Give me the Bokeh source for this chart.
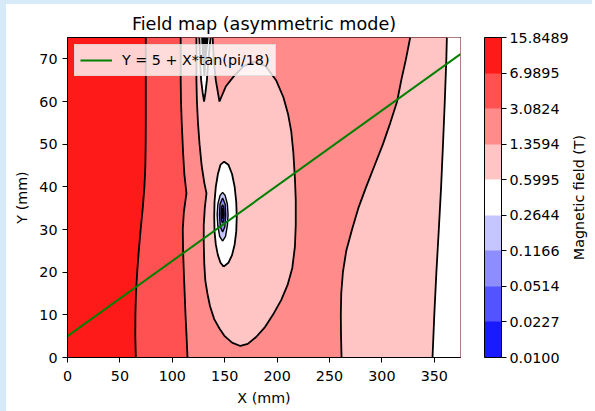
from bokeh.plotting import figure
from bokeh.models import (ColorBar, LogColorMapper, FixedTicker, PrintfTickFormatter,
                          Legend, LegendItem, Range1d)
from bokeh.layouts import row
from bokeh.embed import file_html
from bokeh.resources import INLINE

# ---------------- data ----------------
x_limits = [0, 375]
y_limits = [0, 75]
x_ticks = [0, 50, 100, 150, 200, 250, 300, 350]
y_ticks = [0, 10, 20, 30, 40, 50, 60, 70]

levels = [0.0100, 0.0227, 0.0514, 0.1166, 0.2644, 0.5995, 1.3594, 3.0824, 6.9895, 15.8489]
band_colors = ["#1a1aff", "#5353ff", "#8d8dff", "#c6c6ff", "#ffffff",
               "#ffc5c5", "#ff8b8b", "#ff5151", "#ff1a1a"]

# 6.9895 T contour (left, vertical)
c6990_y = [0, 5, 10, 15, 20, 25, 30, 35, 40, 45, 50, 55, 60, 65, 70, 75]
c6990_x = [65.2, 64.7, 64.8, 65.3, 66.5, 68.0, 69.8, 71.8, 73.4, 74.3, 74.6, 74.7, 74.7, 74.7, 74.7, 74.7]

# 3.0824 T contour
c3082_y = [0, 5, 10, 15, 20, 25, 30, 34, 38.5, 43, 48, 55, 60, 65, 70, 75]
c3082_x = [114.5, 113.6, 112.6, 111.8, 111.0, 110.3, 110.0, 111.0, 113.5, 111.5, 110.3, 109.0, 108.3, 108.0, 108.0, 108.0]

# 1.3594 T contour, right branch
c1359r_y = [0, 5, 10, 15, 20, 25, 30, 35, 40, 45, 50, 55, 60, 65, 70, 75]
c1359r_x = [261.5, 261.0, 260.8, 261.2, 262.8, 266.0, 271.5, 277.5, 285.0, 293.0, 301.0, 308.0, 314.5, 318.5, 323.0, 327.0]

# 0.5995 T contour, right branch
c0600r_y = [0, 10, 20, 30, 40, 50, 60, 70, 75]
c0600r_x = [348.3, 350.0, 352.0, 354.3, 356.5, 358.3, 360.0, 361.5, 362.0]

# 1.3594 T contour around the pole (open at the top edge, with notch)
c1359i_x = [123.0, 123.0, 123.0, 123.5, 124.5, 126.0, 128.0, 130.5, 132.6, 131.0, 130.0, 130.0,
            130.5, 131.5, 133.5, 136.0, 140.0, 145.0, 150.0, 157.0, 165.0, 172.0, 180.0, 188.0,
            196.0, 204.0, 210.0, 214.5, 217.0, 217.8, 217.8, 217.0, 215.5, 213.5, 210.5, 206.0,
            199.0, 189.0, 178.0, 168.0, 159.0, 151.0, 145.0, 141.5, 139.5, 138.5]
c1359i_y = [75.0, 70.0, 65.0, 60.0, 55.0, 50.0, 45.0, 41.0, 38.5, 35.0, 31.0, 27.0,
            22.0, 18.0, 15.0, 12.0, 9.0, 6.8, 5.0, 3.5, 2.7, 3.2, 4.8, 7.0,
            10.0, 13.5, 17.0, 21.0, 26.0, 31.0, 37.0, 42.0, 48.0, 53.0, 57.0, 61.0,
            65.0, 68.3, 69.3, 68.3, 66.0, 63.5, 60.0, 65.0, 70.0, 75.0]

# spike reaching the top edge (0.5995 .. 0.0227 T contours)
spike_levels_x = [
    [125.8, 126.5, 127.5, 129.0, 130.3, 131.6, 133.0, 134.5, 136.5],
    [128.4, 129.3, 130.6, 131.9, 133.8],
    [129.4, 130.1, 130.8, 131.5, 132.6],
    [130.0, 130.8, 131.6],
]
spike_levels_y = [
    [75.0, 70.0, 65.0, 62.0, 60.0, 62.0, 65.0, 70.0, 75.0],
    [75.0, 70.5, 66.0, 70.5, 75.0],
    [75.0, 71.5, 69.0, 71.5, 75.0],
    [75.0, 72.5, 75.0],
]

# closed contours around the weak-field spot (0.5995 .. 0.0227 T)
spot_levels_x = [
    [149.0, 153.5, 157.0, 159.5, 161.0, 161.5, 161.0, 159.5, 157.0, 153.5, 149.5, 146.0,
     143.5, 141.5, 140.3, 140.0, 140.3, 141.5, 143.5, 146.0],
    [148.0, 150.8, 152.6, 153.2, 152.5, 150.4, 148.0, 145.6, 143.5, 142.8, 143.4, 145.2],
    [148.0, 150.1, 151.0, 150.4, 148.0, 145.6, 145.0, 145.9],
    [148.0, 149.1, 149.5, 149.1, 148.0, 146.9, 146.5, 146.9],
    [148.0, 148.5, 148.7, 148.5, 148.0, 147.5, 147.3, 147.5],
]
spot_levels_y = [
    [21.3, 22.2, 24.0, 26.5, 29.5, 33.0, 36.5, 40.0, 43.0, 45.2, 45.9, 45.2,
     43.0, 40.0, 36.5, 33.0, 29.5, 26.5, 24.0, 22.2],
    [27.3, 28.4, 31.0, 33.5, 36.0, 38.0, 38.7, 38.0, 36.0, 33.5, 31.0, 28.4],
    [29.4, 30.6, 33.4, 36.0, 37.4, 36.0, 33.4, 30.6],
    [31.5, 32.2, 33.6, 35.1, 35.8, 35.1, 33.6, 32.2],
    [32.5, 33.0, 33.7, 34.4, 35.0, 34.4, 33.7, 33.0],
]

# reference line  Y = 5 + X*tan(pi/18)
line_x = [0, 375]
line_y = [5.0, 71.1]

# ---------------- figure ----------------
FONT = "DejaVu Sans"
p = figure(frame_width=393, frame_height=320, output_backend="svg", toolbar_location=None,
           x_range=Range1d(*x_limits), y_range=Range1d(*y_limits),
           min_border_left=61, min_border_top=33, min_border_right=113, min_border_bottom=54,
           title="Field map (asymmetric mode)")
p.margin = (4, 0, 0, 6)
p.background_fill_color = band_colors[8]
p.border_fill_color = "white"
p.outline_line_color = "black"
p.outline_line_width = 1
p.xgrid.visible = False
p.ygrid.visible = False

p.title.text_font = FONT
p.title.text_font_size = "17.6px"
p.title.text_font_style = "normal"
p.title.align = "center"
p.title.text_color = "black"
p.title.standoff = 8

for ax, lab in ((p.xaxis[0], "X (mm)"), (p.yaxis[0], "Y (mm)")):
    ax.axis_label = lab
    ax.axis_label_text_font = FONT
    ax.axis_label_text_font_size = "14.3px"
    ax.axis_label_text_font_style = "normal"
    ax.axis_label_text_color = "black"
    ax.major_label_text_font = FONT
    ax.major_label_text_font_size = "14.3px"
    ax.major_label_text_color = "black"
    ax.major_tick_out = 5
    ax.major_tick_in = 0
    ax.minor_tick_out = 0
    ax.minor_tick_in = 0
    ax.axis_line_color = "black"
    ax.major_tick_line_color = "black"
p.xaxis.ticker = FixedTicker(ticks=x_ticks)
p.yaxis.ticker = FixedTicker(ticks=y_ticks)
p.xaxis.major_label_standoff = 8
p.yaxis.major_label_standoff = 5
p.xaxis.axis_label_standoff = 6
p.yaxis.axis_label_standoff = 6


def right_region(xs, ys):
    return xs + [x_limits[1], x_limits[1]], ys + [y_limits[1], y_limits[0]]


# filled bands (painter's order)
for (cx, cy), col in (((c6990_x, c6990_y), band_colors[7]),
                      ((c3082_x, c3082_y), band_colors[6]),
                      ((c1359r_x, c1359r_y), band_colors[5]),
                      ((c0600r_x, c0600r_y), band_colors[4])):
    rx, ry = right_region(cx, cy)
    p.patch(rx, ry, fill_color=col, line_color=None)

p.patch(c1359i_x, c1359i_y, fill_color=band_colors[5], line_color=None)

for i, (sx, sy) in enumerate(zip(spike_levels_x, spike_levels_y)):
    p.patch(sx, sy, fill_color=band_colors[4 - i], line_color=None)
for i, (sx, sy) in enumerate(zip(spot_levels_x, spot_levels_y)):
    p.patch(sx, sy, fill_color=band_colors[4 - i], line_color=None)

# contour lines
LW = 1.8
for cx, cy in ((c6990_x, c6990_y), (c3082_x, c3082_y), (c1359r_x, c1359r_y),
               (c0600r_x, c0600r_y), (c1359i_x, c1359i_y)):
    p.line(cx, cy, line_color="black", line_width=LW)
for sx, sy in zip(spike_levels_x, spike_levels_y):
    p.line(sx, sy, line_color="black", line_width=LW)
for i, (sx, sy) in enumerate(zip(spot_levels_x, spot_levels_y)):
    p.line(sx + sx[:1], sy + sy[:1], line_color="black", line_width=LW if i == 0 else 1.4)

ref = p.line(line_x, line_y, line_color="green", line_width=2)

legend = Legend(items=[LegendItem(label="Y = 5 + X*tan(pi/18)", renderers=[ref])],
                location="top_left")
legend.label_text_font = FONT
legend.label_text_font_size = "14.3px"
legend.label_text_color = "black"
legend.glyph_width = 32
legend.label_standoff = 10
legend.padding = 5
legend.margin = 7
legend.spacing = 0
legend.border_line_color = "#cccccc"
legend.border_line_width = 1
legend.background_fill_color = "white"
legend.background_fill_alpha = 0.8
p.add_layout(legend, "center")

# colour bar
mapper = LogColorMapper(palette=band_colors, low=levels[0], high=levels[-1])
cb = ColorBar(color_mapper=mapper, ticker=FixedTicker(ticks=levels),
              formatter=PrintfTickFormatter(format="%.4f"),
              width=17, height=320, location=(24, 0), padding=0, margin=0,
              major_tick_out=5, major_tick_in=0, major_tick_line_color="black",
              minor_tick_line_color=None, bar_line_color="black",
              label_standoff=3, major_label_text_font=FONT,
              major_label_text_font_size="14.3px", major_label_text_color="black",
              background_fill_alpha=0)
p.add_layout(cb, "right")

# colour-bar title: a narrow companion figure whose left axis label reads upwards
p2 = figure(frame_width=1, frame_height=320, output_backend="svg", toolbar_location=None,
            x_range=Range1d(0, 1), y_range=Range1d(*y_limits),
            min_border_left=10, min_border_right=5, min_border_top=33, min_border_bottom=54)
p2.margin = (4, 0, 0, -6)
p2.outline_line_color = None
p2.background_fill_alpha = 0
p2.border_fill_alpha = 0
p2.xgrid.visible = False
p2.ygrid.visible = False
p2.xaxis.visible = False
ax2 = p2.yaxis[0]
ax2.ticker = FixedTicker(ticks=[])
ax2.axis_line_color = None
ax2.major_tick_line_color = None
ax2.minor_tick_line_color = None
ax2.major_label_text_font_size = "0px"
ax2.axis_label = "Magnetic field (T)"
ax2.axis_label_text_font = FONT
ax2.axis_label_text_font_size = "14.3px"
ax2.axis_label_text_font_style = "normal"
ax2.axis_label_text_color = "black"
ax2.axis_label_standoff = 0

page = row(p, p2, styles={
    "background": "linear-gradient(to right, #d6eaf8 6px, transparent 6px), "
                  "linear-gradient(to bottom, #d6eaf8 4px, #ffffff 4px)"})
open("out.html", "w").write(file_html(page, INLINE))
